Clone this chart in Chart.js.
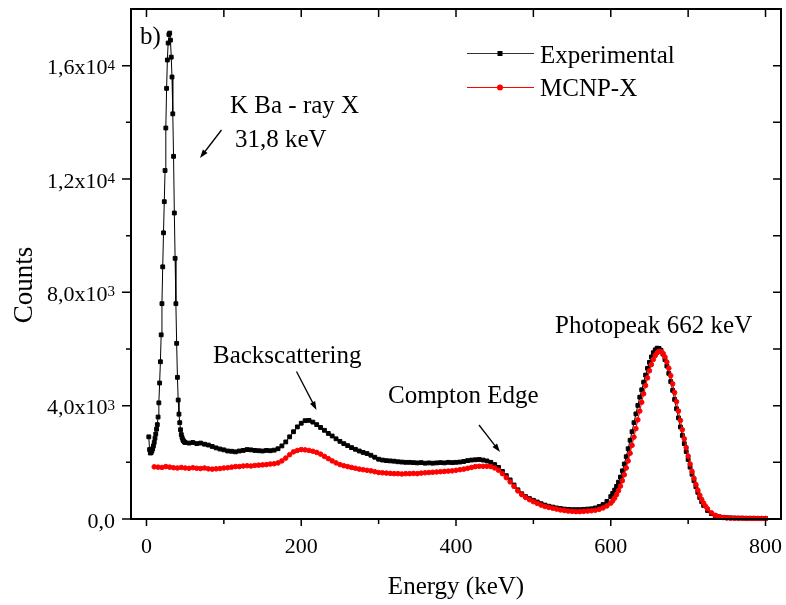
<!DOCTYPE html>
<html>
<head>
<meta charset="utf-8">
<script src="https://cdn.jsdelivr.net/npm/chart.js@4.4.0/dist/chart.umd.min.js"></script>
<style>
  html, body { margin: 0; padding: 0; background: #fff; }
  #wrap { width: 786px; height: 605px; }
</style>
</head>
<body>
<div id="wrap"><canvas id="grafik" width="786" height="605"></canvas></div>
<script>
// Experimental spectrum (keV, counts)
const EXP_ENERGY = [
  3, 4, 5, 6, 7, 8, 9, 10, 11, 12, 13, 14, 15, 16, 17, 18, 19, 20, 21, 22, 23, 24, 25, 26,
  27, 28, 29, 30, 31, 32, 33, 34, 35, 36, 37, 38, 39, 40, 41, 42, 43, 44, 45, 46, 47, 48, 49, 50,
  55, 60, 65, 70, 75, 80, 85, 90, 95, 100, 105, 110, 115, 120, 125, 130, 135, 140, 145, 150,
  155, 160, 165, 170, 175, 180, 185, 190, 195, 200, 205, 210, 215, 220, 225, 230, 235, 240,
  245, 250, 255, 260, 265, 270, 275, 280, 285, 290, 295, 300, 305, 310, 315, 320, 325, 330,
  335, 340, 345, 350, 355, 360, 365, 370, 375, 380, 385, 390, 395, 400, 405, 410, 415, 420,
  425, 430, 435, 440, 445, 450, 455, 460, 465, 470, 475, 480, 485, 490, 495, 500, 505, 510,
  515, 520, 525, 530, 535, 540, 545, 550, 555, 560, 565, 570, 575, 580, 585, 590, 595,
  600, 602.5, 605, 607.5, 610, 612.5, 615, 617.5, 620, 622.5, 625, 627.5, 630, 632.5, 635, 637.5,
  640, 642.5, 645, 647.5, 650, 652.5, 655, 657.5, 660, 662.5, 665, 667.5, 670, 672.5, 675, 677.5,
  680, 682.5, 685, 687.5, 690, 692.5, 695, 697.5, 700, 702.5, 705, 707.5, 710, 712.5, 715, 717.5, 720,
  725, 730, 735, 740, 745, 750, 755, 760, 765, 770, 775, 780, 785, 790, 795, 800
];
const EXP_COUNTS = [
  2900, 2450, 2330, 2340, 2400, 2480, 2580, 2700, 2850, 3000, 3170, 3330, 3600, 4100, 4800, 5550,
  6500, 7600, 8900, 10100, 11200, 12300, 13800, 15200, 16200, 16800, 17100, 17150, 16900, 16300,
  15600, 14300, 12800, 10800, 9200, 7600, 6200, 5000, 4200, 3700, 3400, 3150, 2980, 2880, 2800,
  2750, 2720, 2700,
  2680, 2700, 2660, 2680, 2640, 2610, 2560, 2510, 2470, 2440, 2400, 2390, 2370, 2400, 2420, 2450,
  2440, 2420, 2410, 2400, 2420, 2410, 2430, 2480, 2580, 2720, 2900, 3080, 3250, 3380, 3470, 3480,
  3420, 3330, 3230, 3130, 3020, 2930, 2830, 2740, 2660, 2590, 2520, 2460, 2400, 2350, 2310, 2250,
  2180, 2110, 2080, 2060, 2050, 2040, 2020, 2010, 2000, 2000, 1990, 1980, 1990, 1970, 1980, 1970,
  1980, 1990, 1980, 2000, 1990, 2000, 2010, 2030, 2060, 2080, 2090, 2100, 2080, 2050, 2000, 1920,
  1820, 1680, 1530, 1380, 1200, 1030, 890, 790, 720, 660, 600, 540, 490, 450, 420, 390, 370, 350,
  340, 330, 330, 330, 340, 350, 360, 390, 440, 510, 620,
  790, 900, 1020, 1150, 1300, 1480, 1700, 1940, 2200, 2480, 2780, 3080, 3400, 3710, 4010, 4300,
  4560, 4830, 5080, 5320, 5530, 5720, 5870, 5970, 6030, 6020, 5950, 5820, 5630, 5400, 5140, 4850,
  4540, 4220, 3890, 3570, 3250, 2950, 2660, 2380, 2100, 1830, 1580, 1350, 1140, 940, 760, 610, 480,
  300, 190, 120, 80, 60, 45, 40, 35, 30, 30, 25, 25, 25, 20, 20, 20
];

// MCNP-X simulation (keV, counts)
const MCNP_ENERGY = [
  10, 15, 20, 25, 30, 35, 40, 45, 50, 55, 60, 65, 70, 75, 80, 85, 90, 95, 100, 105, 110, 115,
  120, 125, 130, 135, 140, 145, 150, 155, 160, 165, 170, 175, 180, 185, 190, 195, 200, 205, 210,
  215, 220, 225, 230, 235, 240, 245, 250, 255, 260, 265, 270, 275, 280, 285, 290, 295, 300, 305,
  310, 315, 320, 325, 330, 335, 340, 345, 350, 355, 360, 365, 370, 375, 380, 385, 390, 395, 400,
  405, 410, 415, 420, 425, 430, 435, 440, 445, 450, 455, 460, 465, 470, 475, 480, 485, 490, 495,
  500, 505, 510, 515, 520, 525, 530, 535, 540, 545, 550, 555, 560, 565, 570, 575, 580, 585, 590, 595,
  600, 602.5, 605, 607.5, 610, 612.5, 615, 617.5, 620, 622.5, 625, 627.5, 630, 632.5, 635, 637.5,
  640, 642.5, 645, 647.5, 650, 652.5, 655, 657.5, 660, 662.5, 665, 667.5, 670, 672.5, 675, 677.5,
  680, 682.5, 685, 687.5, 690, 692.5, 695, 697.5, 700, 702.5, 705, 707.5, 710, 712.5, 715, 717.5,
  720, 722.5,
  725, 730, 735, 740, 745, 750, 755, 760, 765, 770, 775, 780, 785, 790, 795, 800
];
const MCNP_COUNTS = [
  1840, 1830, 1820, 1850, 1830, 1810, 1800, 1820, 1800, 1790, 1810, 1790, 1780, 1800, 1770, 1760,
  1770, 1780, 1800, 1810, 1830, 1850, 1850, 1870, 1880, 1870, 1890, 1900, 1910, 1920, 1940, 1950,
  1980, 2050, 2150, 2270, 2370, 2420, 2450, 2440, 2420, 2390, 2350, 2290, 2210, 2130, 2050, 1980,
  1920, 1880, 1850, 1820, 1790, 1760, 1740, 1720, 1700, 1670, 1640, 1630, 1620, 1610, 1600, 1600,
  1590, 1600, 1600, 1610, 1600, 1620, 1630, 1640, 1650, 1660, 1670, 1680, 1690, 1700, 1720, 1740,
  1760, 1790, 1820, 1850, 1860, 1860, 1860, 1850, 1800, 1720, 1600, 1460, 1310, 1150, 990, 860,
  760, 680, 610, 550, 490, 440, 410, 380, 350, 320, 300, 280, 270, 260, 260, 270, 280, 290, 310,
  340, 390, 460,
  560, 640, 740, 860, 1000, 1160, 1350, 1560, 1800, 2050, 2320, 2600, 2890, 3190, 3500, 3810,
  4120, 4420, 4710, 4980, 5230, 5450, 5630, 5770, 5870, 5920, 5910, 5840, 5720, 5540, 5320, 5060,
  4770, 4460, 4140, 3810, 3480, 3150, 2830, 2520, 2220, 1940, 1680, 1440, 1220, 1020, 840, 690,
  560, 450,
  360, 220, 130, 80, 50, 35, 30, 25, 25, 25, 20, 20, 20, 20, 20, 20
];

const X_TICKS = [0, 200, 400, 600, 800];
const X_TICK_LABELS = ['0', '200', '400', '600', '800'];
const Y_TICKS = [0, 4000, 8000, 12000, 16000];
const Y_TICK_MANT = ['0,0', '4,0x10', '8,0x10', '1,2x10', '1,6x10'];
const Y_TICK_EXP = ['', '3', '3', '4', '4'];

const SERIF = "'Liberation Serif', 'Times New Roman', serif";

function toPoints(xs, ys) {
  return xs.map((v, i) => ({ x: v, y: ys[i] }));
}

function panah(ctx, x1, y1, x2, y2) {
  const ang = Math.atan2(y2 - y1, x2 - x1);
  const h = 9;
  ctx.beginPath();
  ctx.moveTo(x1, y1);
  ctx.lineTo(x2 - Math.cos(ang) * h * 0.7, y2 - Math.sin(ang) * h * 0.7);
  ctx.stroke();
  ctx.beginPath();
  ctx.moveTo(x2, y2);
  ctx.lineTo(x2 - h * Math.cos(ang - 0.33), y2 - h * Math.sin(ang - 0.33));
  ctx.lineTo(x2 - h * Math.cos(ang + 0.33), y2 - h * Math.sin(ang + 0.33));
  ctx.closePath();
  ctx.fill();
}

// frame, minor ticks, y labels, legend and annotations
const bingkai = {
  id: 'bingkai',
  afterDraw(chart) {
    const { ctx, chartArea: a, scales: { x, y } } = chart;
    ctx.save();
    ctx.strokeStyle = '#000';
    ctx.fillStyle = '#000';
    ctx.lineWidth = 2;
    ctx.strokeRect(a.left, a.top, a.right - a.left, a.bottom - a.top);

    ctx.lineWidth = 1.5;
    ctx.beginPath();
    for (let v = 0; v <= 800; v += 100) {
      const px = x.getPixelForValue(v);
      const len = v % 200 === 0 ? 7 : 5;
      ctx.moveTo(px, a.bottom); ctx.lineTo(px, a.bottom + len);
      ctx.moveTo(px, a.top); ctx.lineTo(px, a.top + 8);
    }
    for (let v = 2000; v < 18000; v += 2000) {
      const py = y.getPixelForValue(v);
      const len = v % 4000 === 0 ? 9 : 5;
      ctx.moveTo(a.left - len, py); ctx.lineTo(a.left, py);
      ctx.moveTo(a.right, py); ctx.lineTo(a.right - 8, py);
    }
    ctx.moveTo(a.left - 9, a.bottom); ctx.lineTo(a.left, a.bottom);
    ctx.stroke();

    // y tick labels with superscript
    const kanan = a.left - 16;
    ctx.textBaseline = 'alphabetic';
    ctx.textAlign = 'left';
    Y_TICKS.forEach((v, i) => {
      const py = y.getPixelForValue(v);
      ctx.font = '15px ' + SERIF;
      const wExp = Y_TICK_EXP[i] ? ctx.measureText(Y_TICK_EXP[i]).width : 0;
      ctx.font = '22px ' + SERIF;
      const wMant = ctx.measureText(Y_TICK_MANT[i]).width;
      ctx.fillText(Y_TICK_MANT[i], kanan - wExp - wMant, py + 8.5);
      if (Y_TICK_EXP[i]) {
        ctx.font = '15px ' + SERIF;
        ctx.fillText(Y_TICK_EXP[i], kanan - wExp, py + 4);
      }
    });

    // y axis title
    ctx.save();
    ctx.translate(31.5, 285);
    ctx.rotate(-Math.PI / 2);
    ctx.textAlign = 'center';
    ctx.font = '27px ' + SERIF;
    ctx.fillText('Counts', 0, 0);
    ctx.restore();

    // legend
    ctx.lineWidth = 1;
    ctx.strokeStyle = '#333';
    ctx.beginPath(); ctx.moveTo(467, 53.5); ctx.lineTo(534, 53.5); ctx.stroke();
    ctx.fillRect(497.5, 51, 5, 5);
    ctx.strokeStyle = '#ff0000';
    ctx.beginPath(); ctx.moveTo(467, 87.5); ctx.lineTo(534, 87.5); ctx.stroke();
    ctx.fillStyle = '#ff0000';
    ctx.beginPath(); ctx.arc(500, 87.5, 3, 0, Math.PI * 2); ctx.fill();
    ctx.fillStyle = '#000';
    ctx.font = '25px ' + SERIF;
    ctx.fillText('Experimental', 540, 63);
    ctx.fillText('MCNP-X', 540, 96);

    // annotations
    ctx.fillText('b)', 140, 44);
    ctx.fillText('K Ba - ray X', 230, 113);
    ctx.fillText('31,8 keV', 235, 147);
    ctx.fillText('Backscattering', 213, 363);
    ctx.fillText('Compton Edge', 388, 403);
    ctx.fillText('Photopeak 662 keV', 555, 333);

    ctx.strokeStyle = '#000';
    ctx.lineWidth = 1.3;
    panah(ctx, 221.5, 130, 200, 158);
    panah(ctx, 296.5, 371.5, 316.5, 410);
    panah(ctx, 479, 425, 500, 452);
    ctx.restore();
  }
};

new Chart(document.getElementById('grafik'), {
  type: 'scatter',
  data: {
    datasets: [
      {
        label: 'Experimental',
        data: toPoints(EXP_ENERGY, EXP_COUNTS),
        showLine: true,
        borderColor: '#000',
        borderWidth: 1,
        backgroundColor: '#000',
        pointStyle: 'rect',
        pointRadius: 2.7,
        pointBorderWidth: 1,
        pointBorderColor: '#000',
        order: 2,
        clip: false
      },
      {
        label: 'MCNP-X',
        data: toPoints(MCNP_ENERGY, MCNP_COUNTS),
        showLine: true,
        borderColor: '#ff0000',
        borderWidth: 1,
        backgroundColor: '#ff0000',
        pointStyle: 'circle',
        pointRadius: 2.3,
        pointBorderWidth: 1,
        pointBorderColor: '#ff0000',
        order: 1,
        clip: false
      }
    ]
  },
  options: {
    responsive: false,
    animation: false,
    layout: { padding: { left: 0, right: 5, top: 9, bottom: 0 } },
    plugins: {
      legend: { display: false },
      tooltip: { enabled: false }
    },
    scales: {
      x: {
        type: 'linear',
        min: -20,
        max: 820,
        afterBuildTicks: s => { s.ticks = X_TICKS.map(v => ({ value: v })); },
        afterFit: s => { s.height = 86; s.paddingLeft = 0; s.paddingRight = 0; },
        grid: { display: false, drawTicks: false },
        border: { display: false },
        ticks: {
          font: { family: SERIF, size: 22 },
          color: '#000',
          padding: 15,
          maxRotation: 0,
          autoSkip: false,
          callback: (v, i) => X_TICK_LABELS[i]
        },
        title: {
          display: true,
          text: 'Energy (keV)',
          font: { family: SERIF, size: 25 },
          color: '#000',
          padding: { top: 0, bottom: 3 }
        }
      },
      y: {
        type: 'linear',
        min: 0,
        max: 18000,
        afterBuildTicks: s => { s.ticks = Y_TICKS.map(v => ({ value: v })); },
        afterFit: s => { s.width = 131; s.paddingTop = 0; s.paddingBottom = 0; },
        grid: { display: false, drawTicks: false },
        border: { display: false },
        ticks: { display: false }
      }
    }
  },
  plugins: [bingkai]
});
</script>
</body>
</html>
